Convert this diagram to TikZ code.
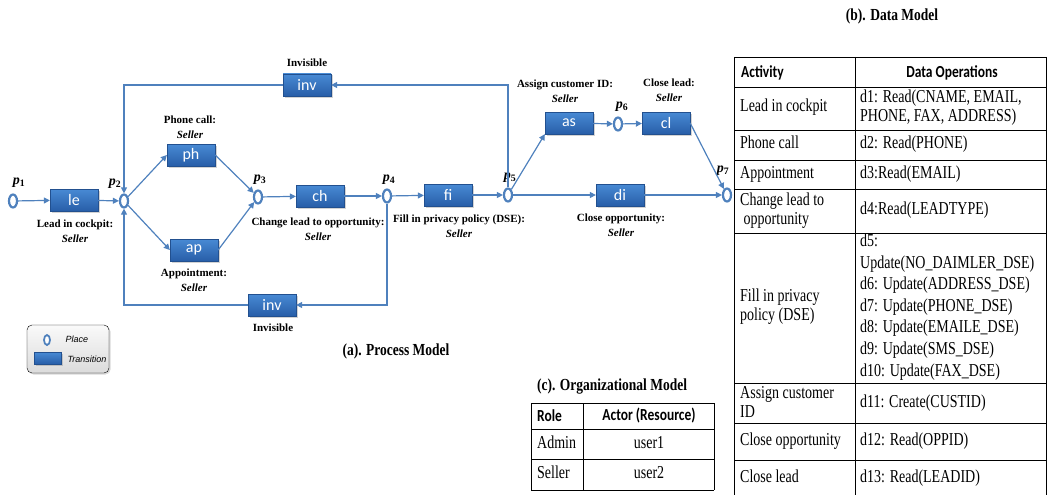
\documentclass[tikz,border=0pt]{standalone}
\usepackage{fontspec}
\setmainfont{Liberation Serif}
\newfontfamily\calibri{Carlito}
\newfontfamily\arial{Liberation Sans}
\usetikzlibrary{positioning,arrows.meta,shapes.geometric,shadows}

\definecolor{flowBlue}{RGB}{79,129,189}
\definecolor{transTop}{RGB}{72,138,212}
\definecolor{transBottom}{RGB}{40,94,168}

% vertically stretched text, as in the tables
\newcommand{\stretchtext}[2][1.25]{\scalebox{1}[#1]{#2}}
\newcommand{\celltext}[2][14.6]{\scalebox{1}[1.3]{\fontsize{14}{#1}\selectfont\begin{tabular}{@{}l@{}}#2\end{tabular}}}
\newcommand{\pname}[1]{\textbf{\textit{p}}\textsubscript{\textbf{#1}}}

\tikzset{
    % Petri net places and transitions
    place/.style={
        ellipse, draw=flowBlue, line width=2.2pt, fill=white,
        minimum width=8pt, minimum height=13pt, inner sep=0pt
    },
    transition/.style={
        rectangle, top color=transTop, bottom color=transBottom,
        draw=transBottom!85!black, line width=0.3pt,
        minimum width=48pt, minimum height=22pt, inner sep=0pt,
        text=white, font=\calibri\fontsize{16}{16}\selectfont,
        drop shadow={shadow xshift=1.5pt, shadow yshift=-1.5pt, opacity=0.35}
    },
    flow/.style={
        draw=flowBlue, line width=1.2pt,
        -{Triangle[length=6pt,width=6pt]}
    },
    % labels
    act label/.style={font=\bfseries\fontsize{11}{15}\selectfont, align=center},
    pname label/.style={font=\fontsize{14}{14}\selectfont, inner sep=0pt},
    title/.style={font=\bfseries\fontsize{13.5}{14}\selectfont},
    legend text/.style={font=\arial\itshape\fontsize{9}{9}\selectfont, inner sep=0pt},
    % tables
    grid line/.style={line width=0.8pt},
    cell/.style={anchor=west, inner sep=0pt},
    head/.style={font=\calibri\bfseries\fontsize{13.5}{13.5}\selectfont, inner sep=0pt}
}

\begin{document}
\begin{tikzpicture}[x=1pt,y=-1pt]

\useasboundingbox (0,0) rectangle (1047,495);

% ---------------- (a) process model ----------------
% places
\node[place] (p1) at (13,201) {};
\node[place] (p2) at (124,201) {};
\node[place] (p3) at (258,197) {};
\node[place] (p4) at (387,196) {};
\node[place] (p5) at (508,195) {};
\node[place] (p6) at (618,124) {};
\node[place] (p7) at (727,195) {};

\node[pname label] (p1l) at (19,183) {\pname{1}};
\node[pname label] (p2l) at (115,184) {\pname{2}};
\node[pname label] (p3l) at (260,180) {\pname{3}};
\node[pname label] (p4l) at (389,180) {\pname{4}};
\node[pname label] (p5l) at (510,178) {\pname{5}};
\node[pname label] (p6l) at (622,107) {\pname{6}};
\node[pname label] (p7l) at (723,171) {\pname{7}};

% transitions
\node[transition] (le) at (74,200) {le};
\node[transition] (ph) at (191,155) {ph};
\node[transition] (ap) at (194,250) {ap};
\node[transition] (ch) at (320,196) {ch};
\node[transition] (fi) at (448,195) {fi};
\node[transition] (invT) at (307,85) {inv};
\node[transition] (invB) at (272,305) {inv};
\node[transition] (as) at (569,123) {as};
\node[transition] (cl) at (666,123) {cl};
\node[transition] (di) at (620,195) {di};

% activity labels
\node[act label] (leL) at (75,231) {Lead in cockpit:\\\textit{Seller}};
\node[act label] (phL) at (190,127) {Phone call:\\\textit{Seller}};
\node[act label] (apL) at (194,280) {Appointment:\\\textit{Seller}};
\node[act label] (chL) at (318,229) {Change lead to opportunity:\\\textit{Seller}};
\node[act label] (fiL) at (459,226) {Fill in privacy policy (DSE):\\\textit{Seller}};
\node[act label] (invTL) at (307,63) {Invisible};
\node[act label] (invBL) at (273,328) {Invisible};
\node[act label] (asL) at (565,91) {Assign customer ID:\\\textit{Seller}};
\node[act label] (clL) at (669,90) {Close lead:\\\textit{Seller}};
\node[act label] (diL) at (621,225) {Close opportunity:\\\textit{Seller}};

% arcs
\draw[flow] (p1) -- (le);
\draw[flow] (le) -- (p2);
\draw[flow] (p2) -- (ph.west);
\draw[flow] (p2) -- (ap.west);
\draw[flow] (ph.east) -- (p3);
\draw[flow] (ap.east) -- (p3);
\draw[flow] (p3) -- (ch);
\draw[flow] (ch) -- (p4);
\draw[flow] (p4) -- (fi);
\draw[flow] (fi) -- (p5);
\draw[flow] (p5) -- (as.south west);
\draw[flow] (p5) -- (di);
\draw[flow] (as) -- (p6);
\draw[flow] (p6) -- (cl);
\draw[flow] (cl.east) -- (p7);
\draw[flow] (di) -- (p7);

% loops back to p2
\draw[flow] (p5.north) |- (invT.east);
\draw[flow] (invT.west) -| (p2.north);
\draw[flow] (p4.south) |- (invB.east);
\draw[flow] (invB.west) -| (p2.south);

% legend
\node[draw, rounded corners=5pt, top color=gray!4, bottom color=gray!28,
      minimum width=82pt, minimum height=48pt,
      drop shadow={shadow xshift=1.5pt, shadow yshift=-1.5pt, opacity=0.3}] (legend) at (68,349) {};
\node[place, minimum width=6pt, minimum height=10pt, line width=1.8pt] (lgPlace) at (47,340) {};
\node[legend text] (lgPlaceT) at (77,339) {Place};
\node[transition, minimum width=27pt, minimum height=12pt] (lgTrans) at (48,358) {};
\node[legend text] (lgTransT) at (87,359) {Transition};

\node[title] (titleA) at (396,351) {\stretchtext{(a). Process Model}};

% ---------------- (b) data model ----------------
\node[title] (titleB) at (892,16) {\stretchtext{(b). Data Model}};

\foreach \y in {57,87,130,160,189,233,383,423,460}
    \draw[grid line] (734,\y) -- (1046,\y);
\foreach \x in {734,855,1046}
    \draw[grid line] (\x,57) -- (\x,495);

\node[head, anchor=west] (hAct) at (741,73) {\stretchtext{Activity}};
\node[head] (hOps) at (952,73) {\stretchtext{Data Operations}};

\node[cell] (a1) at (740,108) {\celltext{Lead in cockpit}};
\node[cell] (a2) at (740,145) {\celltext{Phone call}};
\node[cell] (a3) at (740,175) {\celltext{Appointment}};
\node[cell] (a4) at (740,211) {\celltext{Change lead to\\\ opportunity}};
\node[cell] (a5) at (740,307) {\celltext{Fill in privacy\\policy (DSE)}};
\node[cell] (a6) at (740,404) {\celltext{Assign customer\\ID}};
\node[cell] (a7) at (740,442) {\celltext{Close opportunity}};
\node[cell] (a8) at (740,479) {\celltext{Close lead}};

\node[cell] (d1) at (860,108) {\celltext{d1: Read(CNAME, EMAIL,\\PHONE, FAX, ADDRESS)}};
\node[cell] (d2) at (860,145) {\celltext{d2: Read(PHONE)}};
\node[cell] (d3) at (860,175) {\celltext{d3:Read(EMAIL)}};
\node[cell] (d4) at (860,211) {\celltext{d4:Read(LEADTYPE)}};
\node[cell] (d5) at (860,307) {\celltext[16.6]{d5:\\Update(NO\_DAIMLER\_DSE)\\d6: Update(ADDRESS\_DSE)\\d7: Update(PHONE\_DSE)\\d8: Update(EMAILE\_DSE)\\d9: Update(SMS\_DSE)\\d10: Update(FAX\_DSE)}};
\node[cell] (d11) at (860,404) {\celltext{d11: Create(CUSTID)}};
\node[cell] (d12) at (860,442) {\celltext{d12: Read(OPPID)}};
\node[cell] (d13) at (860,479) {\celltext{d13: Read(LEADID)}};

% ---------------- (c) organizational model ----------------
\node[title] (titleC) at (612,387) {\stretchtext{(c). Organizational Model}};

\foreach \y in {403,429,459,490}
    \draw[grid line] (531,\y) -- (714,\y);
\foreach \x in {531,583,714}
    \draw[grid line] (\x,403) -- (\x,490);

\node[head, anchor=west] (hRole) at (537,416) {\stretchtext{Role}};
\node[head] (hActor) at (649,416) {\stretchtext{Actor (Resource)}};
\node[cell] (r1) at (537,445) {\celltext{Admin}};
\node[cell] (r2) at (537,475) {\celltext{Seller}};
\node (u1) at (649,445) {\celltext{user1}};
\node (u2) at (649,475) {\celltext{user2}};

\end{tikzpicture}
\end{document}
